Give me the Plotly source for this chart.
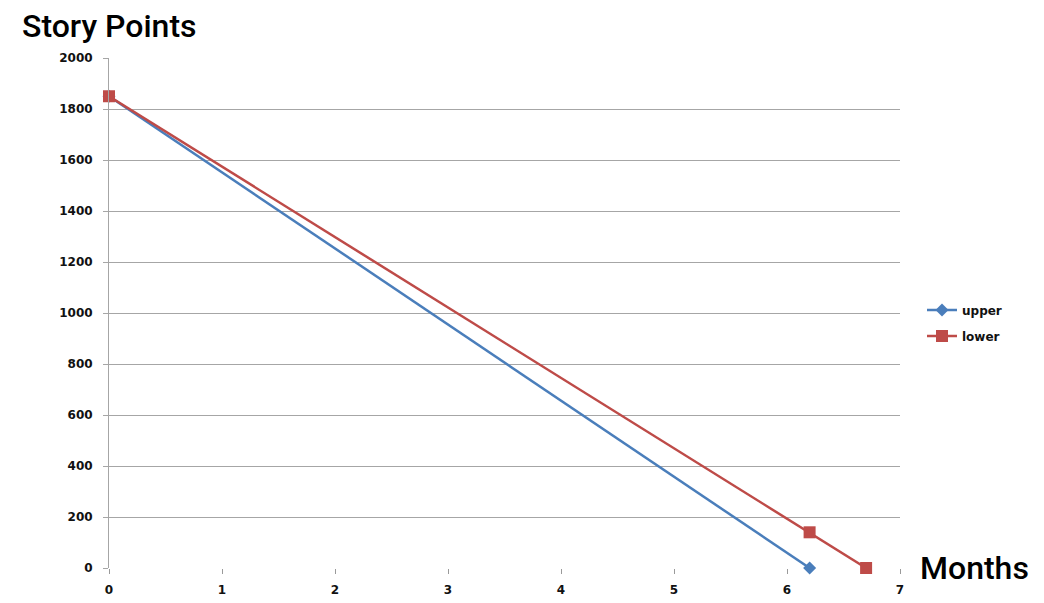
import plotly.graph_objects as go

upper_x = [0, 6.2]
upper_y = [1850, 0]
lower_x = [0, 6.2, 6.7]
lower_y = [1850, 140, 0]
y_ticks = [0, 200, 400, 600, 800, 1000, 1200, 1400, 1600, 1800, 2000]
x_ticks = [0, 1, 2, 3, 4, 5, 6, 7]

fig = go.Figure()
fig.add_trace(go.Scatter(x=upper_x, y=upper_y, mode="lines+markers", name="upper",
                         legendgroup="u",
                         line=dict(color="#4A7EBB", width=2.5), cliponaxis=False,
                         marker=dict(symbol="diamond", size=10, color="#4A7EBB")))
fig.add_trace(go.Scatter(x=lower_x, y=lower_y, mode="lines+markers", name="lower",
                         legendgroup="l",
                         line=dict(color="#BE4B48", width=2.5), cliponaxis=False,
                         marker=dict(symbol="square", size=12, color="#BE4B48")))

tickfont = dict(family="DejaVu Sans", size=12, color="#111111", weight="bold")
L, R, T, B = 101, 152, 50, 43
PW = 1044 - L - R
PH = 603 - T - B
fig.update_layout(
    width=1044, height=603,
    margin=dict(l=L, r=R, t=T, b=B),
    paper_bgcolor="white", plot_bgcolor="white",
    showlegend=True,
    legend=dict(x=1 + 22/PW, y=1 - (323 - 58)/PH, xanchor="left", yanchor="middle",
                font=dict(family="DejaVu Sans", size=12, color="#111111", weight="bold"),
                itemwidth=30, tracegroupgap=7),
    xaxis=dict(range=[0, 7], tickvals=x_ticks, showgrid=False, zeroline=False,
               showline=False, ticks="outside", ticklen=5, tickcolor="#9a9a9a",
               tickfont=tickfont, ticklabelstandoff=6),
    yaxis=dict(range=[0, 2000], tickvals=y_ticks, showgrid=True, gridcolor="#a6a6a6",
               gridwidth=1, zeroline=False, showline=True, linecolor="#a6a6a6",
               ticks="outside", ticklen=5, tickcolor="#a6a6a6", tickfont=tickfont,
               ticklabelstandoff=8),
)
fig.add_annotation(text="Story Points", xref="paper", yref="paper",
                   x=(12 - L)/PW, y=1 + (T - 18)/PH, xanchor="left", yanchor="middle",
                   showarrow=False,
                   font=dict(family="Roboto", size=32, color="#000000", weight=500))
fig.add_annotation(text="Months", xref="paper", yref="paper",
                   x=1 + 18/PW, y=0, xanchor="left", yanchor="middle",
                   showarrow=False,
                   font=dict(family="Roboto", size=32, color="#000000", weight=500))
fig.write_html("out.html")
